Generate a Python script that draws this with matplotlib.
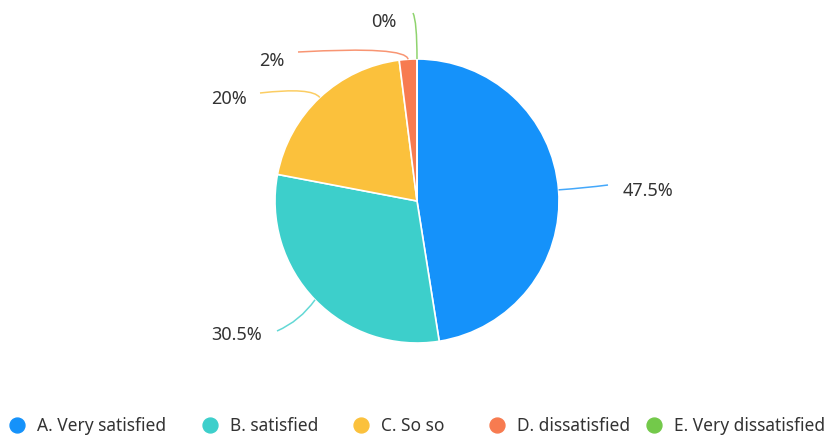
import matplotlib.pyplot as plt
from matplotlib.path import Path
from matplotlib.patches import PathPatch
import numpy as np

plt.rcParams['font.family'] = ['Noto Sans', 'DejaVu Sans']

# ======== data ========
categories = ["A. Very satisfied", "B. satisfied", "C. So so", "D. dissatisfied", "E. Very dissatisfied"]
values = [47.5, 30.5, 20, 2, 0]
labels = ["47.5%", "30.5%", "20%", "2%", "0%"]
colors = ["#1592FA", "#3DCFCB", "#FBC13C", "#F77B50", "#73C94A"]

H = 439
cx, cy, R = 417, H - 202, 142

fig = plt.figure(figsize=(8.32, 4.39), dpi=100)
ax = fig.add_axes([0, 0, 1, 1])

wedges, _ = ax.pie(values, colors=colors, startangle=90, counterclock=False,
                   center=(cx, cy), radius=R,
                   wedgeprops=dict(edgecolor="white", linewidth=1.2))
ax.set_xlim(0, 832)
ax.set_ylim(0, H)
ax.set_aspect("equal")
ax.axis("off")

# leader line layout (image coords, y down): control point, end point, text pos, ha
layout = [
    ((585, 189), (608, 186), (623, 191), "left"),
    ((300, 322), (277, 332), (262, 335), "right"),
    ((312, 88), (260, 94), (247, 99), "right"),
    ((406, 47), (298, 53), (284, 61), "right"),
    ((417, 22), (413, 14), (397, 22), "right"),
]

for w, lab, col, (ctrl, end, tpos, ha) in zip(wedges, labels, colors, layout):
    mid = np.deg2rad((w.theta1 + w.theta2) / 2)
    sx, sy = cx + R * np.cos(mid), cy + R * np.sin(mid)
    verts = [(sx, sy), (ctrl[0], H - ctrl[1]), (end[0], H - end[1])]
    path = Path(verts, [Path.MOVETO, Path.CURVE3, Path.CURVE3])
    ax.add_patch(PathPatch(path, fc="none", ec=col, lw=1.1, alpha=0.8))
    ax.text(tpos[0], H - tpos[1], lab, ha=ha, va="center", fontsize=13, color="#333333")

# ======== legend ========
leg_x = [17, 210, 361, 497, 654]
leg_y = H - 426
for x, cat, col in zip(leg_x, categories, colors):
    ax.scatter([x], [leg_y], s=115, color=col, zorder=3)
    ax.text(x + 20, leg_y, cat, ha="left", va="center", fontsize=12.5, color="#333333")

plt.savefig("out.png", dpi=100)
